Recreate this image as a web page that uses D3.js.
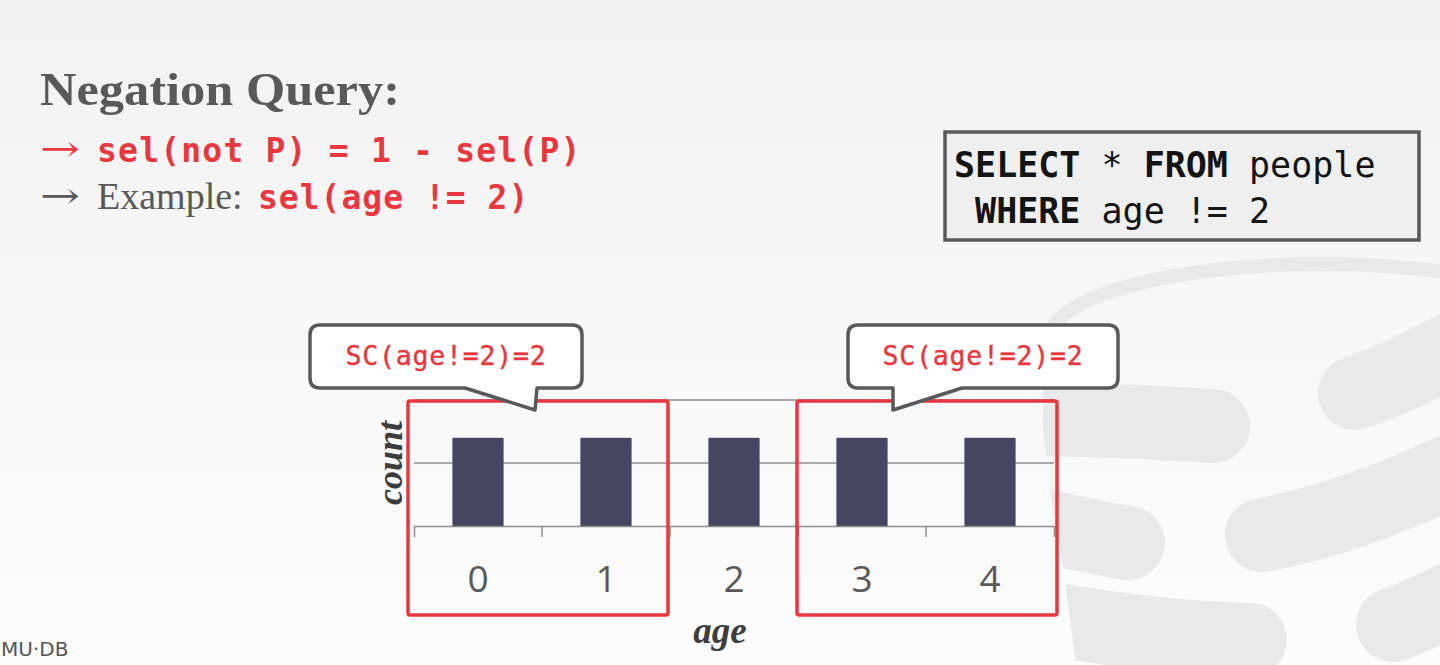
<!DOCTYPE html>
<html><head><meta charset="utf-8">
<script src="https://cdn.jsdelivr.net/npm/d3@7"></script>
<style>html,body{margin:0;padding:0;overflow:hidden;background:#f6f6f6}</style>
</head><body>
<svg id="chart" width="1440" height="665"></svg>
<script>
// ---- data ----
const ages = ["0", "1", "2", "3", "4"];
const counts = [1.4, 1.4, 1.4, 1.4, 1.4];
const yTicks = [0, 1, 2];
const highlightGroups = [["0", "1"], ["3", "4"]];
const calloutLabels = ["SC(age!=2)=2", "SC(age!=2)=2"];
const xAxisTitle = "age";
const yAxisTitle = "count";
const titleText = "Negation Query:";
const bullet1Code = "sel(not P) = 1 - sel(P)";
const bullet2Text = "Example:";
const bullet2Code = "sel(age != 2)";
const sqlLines = [[["SELECT", true], [" * ", false], ["FROM", true], [" people", false]],
                  [[" ", false], ["WHERE", true], [" age != 2", false]]];

// ---- styles ----
const RED = "#e8373e", GRAY = "#595959", BAR = "#464663";
const svg = d3.select("#chart");

// background gradient
const defs = svg.append("defs");
const lg = defs.append("linearGradient").attr("id", "bg").attr("x1", 0).attr("y1", 0).attr("x2", 0).attr("y2", 1);
lg.append("stop").attr("offset", "0%").attr("stop-color", "#f2f2f2");
lg.append("stop").attr("offset", "100%").attr("stop-color", "#fcfcfc");
svg.append("rect").attr("width", 1440).attr("height", 665).attr("fill", "url(#bg)");

// faint logo in background
defs.append("clipPath").attr("id", "wall").append("path")
  .attr("d", "M1043,300 L1043,430 Q1050,500 1058,530 L1070,620 L1076,665 L1440,665 L1440,300 Z");
const logo = svg.append("g").attr("fill", "none").attr("stroke", "#e9e9e9").attr("stroke-linecap", "round");
logo.append("path").attr("d", "M1050,338 A272,74 0 0 1 1594,338").attr("stroke-width", 14);
const bands = logo.append("g").attr("clip-path", "url(#wall)").attr("stroke-width", 74);
bands.append("path").attr("d", "M990,418 Q1120,420 1213,426");
bands.append("path").attr("d", "M1000,515 Q1080,535 1128,543");
bands.append("path").attr("d", "M1010,612 Q1150,638 1250,640");
logo.append("g").attr("stroke-width", 74).selectAll("path")
  .data(["M1355,393 Q1400,378 1470,340", "M1262,535 Q1350,520 1470,462", "M1393,625 Q1420,615 1470,590"])
  .join("path").attr("d", d => d);

// ---- header texts ----
svg.append("text").attr("x", 40).attr("y", 105).attr("font-family", "Liberation Serif")
  .attr("font-weight", "bold").attr("font-size", 47).attr("fill", GRAY)
  .attr("textLength", 360).attr("lengthAdjust", "spacingAndGlyphs").text(titleText);

const arrow = (yy, col) => svg.append("text").attr("x", 40).attr("y", yy).attr("font-family", "DejaVu Serif")
  .attr("font-size", 36).attr("fill", col).attr("textLength", 40).attr("lengthAdjust", "spacingAndGlyphs").text("\u2192");
arrow(161, RED);
arrow(208, GRAY);
svg.append("text").attr("x", 97).attr("y", 162).attr("font-family", "DejaVu Sans Mono")
  .attr("font-weight", "bold").attr("font-size", 33).attr("letter-spacing", 1.2).attr("fill", RED).text(bullet1Code);

svg.append("text").attr("x", 97).attr("y", 209).attr("font-family", "Liberation Serif")
  .attr("font-size", 38).attr("fill", GRAY).text(bullet2Text);
svg.append("text").attr("x", 258).attr("y", 209).attr("font-family", "DejaVu Sans Mono")
  .attr("font-weight", "bold").attr("font-size", 33).attr("letter-spacing", 1.0).attr("fill", RED).text(bullet2Code);

// SQL box
svg.append("rect").attr("x", 945).attr("y", 132).attr("width", 474).attr("height", 108)
  .attr("fill", "#efefef").attr("stroke", GRAY).attr("stroke-width", 3.5);
const sql = svg.append("text").attr("font-family", "DejaVu Sans Mono").attr("font-size", 35)
  .attr("fill", "#141414").attr("style", "white-space:pre");
sqlLines.forEach((line, i) => {
  line.forEach(([t, b], j) => {
    const ts = sql.append("tspan").attr("font-weight", b ? "bold" : "normal").text(t);
    if (j === 0) ts.attr("x", 954).attr("y", 177 + i * 45.5);
  });
});

// ---- chart ----
const x = d3.scaleBand().domain(ages).range([414, 1054]);
const y = d3.scaleLinear().domain([0, 2]).range([526, 400]);

// gridlines
svg.append("g").selectAll("line").data(yTicks.filter(t => t > 0)).join("line")
  .attr("x1", x.range()[0]).attr("x2", x.range()[1])
  .attr("y1", d => y(d)).attr("y2", d => y(d))
  .attr("stroke", "#8e8e8e").attr("stroke-width", 1.5);

// bars
const bw = x.bandwidth() * 0.4;
svg.append("g").selectAll("rect").data(ages).join("rect")
  .attr("x", (d) => x(d) + (x.bandwidth() - bw) / 2)
  .attr("y", (d, i) => y(counts[i]))
  .attr("width", bw)
  .attr("height", (d, i) => y(0) - y(counts[i]))
  .attr("fill", BAR);

// x axis
const xAxis = svg.append("g").attr("transform", `translate(0,${y(0)})`)
  .call(d3.axisBottom(x).tickSizeInner(0).tickSizeOuter(11).tickPadding(40));
xAxis.select(".domain").attr("stroke", "#8e8e8e").attr("stroke-width", 1.5);
xAxis.selectAll(".tick text").attr("font-family", "Open Sans").attr("font-size", 37).attr("fill", GRAY);
xAxis.selectAll(".boundary").data(ages.slice(1)).join("line").attr("class", "boundary")
  .attr("x1", d => x(d)).attr("x2", d => x(d)).attr("y1", 0).attr("y2", 11)
  .attr("stroke", "#8e8e8e").attr("stroke-width", 1.5);

// axis titles
svg.append("text").attr("transform", `translate(402,${(y(0) + y(2)) / 2}) rotate(-90)`)
  .attr("text-anchor", "middle").attr("font-family", "Liberation Serif").attr("font-weight", "bold")
  .attr("font-style", "italic").attr("font-size", 36).attr("fill", "#3d3d3d").text(yAxisTitle);
svg.append("text").attr("x", 720).attr("y", 643)
  .attr("text-anchor", "middle").attr("font-family", "Liberation Serif").attr("font-weight", "bold")
  .attr("font-style", "italic").attr("font-size", 37).attr("fill", "#3d3d3d").text(xAxisTitle);

// highlight boxes
const boxNudge = [-6, -1];
svg.append("g").selectAll("rect").data(highlightGroups).join("rect")
  .attr("x", (g, i) => x(g[0]) + boxNudge[i])
  .attr("y", y(2) + 1)
  .attr("width", g => x(g[g.length - 1]) + x.bandwidth() - x(g[0]) + 4)
  .attr("height", 214)
  .attr("rx", 2)
  .attr("fill", "none").attr("stroke", RED).attr("stroke-width", 3.5);

// callouts
const callouts = [
  { x0: 310, x1: 582, y0: 325, y1: 388, pL: 465, pR: 537, tx: 535, ty: 410 },
  { x0: 848, x1: 1118, y0: 325, y1: 388, pL: 893, pR: 962, tx: 893, ty: 410 }
];
const r = 10;
callouts.forEach((c, i) => {
  const p = `M${c.x0 + r},${c.y0} H${c.x1 - r} Q${c.x1},${c.y0} ${c.x1},${c.y0 + r} V${c.y1 - r} Q${c.x1},${c.y1} ${c.x1 - r},${c.y1} H${c.pR} L${c.tx},${c.ty} L${c.pL},${c.y1} H${c.x0 + r} Q${c.x0},${c.y1} ${c.x0},${c.y1 - r} V${c.y0 + r} Q${c.x0},${c.y0} ${c.x0 + r},${c.y0} Z`;
  svg.append("path").attr("d", p).attr("fill", "#fff").attr("stroke", GRAY).attr("stroke-width", 3.5)
    .attr("stroke-linejoin", "round");
  svg.append("text").attr("x", (c.x0 + c.x1) / 2).attr("y", 365).attr("text-anchor", "middle")
    .attr("font-family", "DejaVu Sans Mono").attr("font-size", 26.5).attr("letter-spacing", 0.8)
    .attr("fill", RED).attr("stroke", RED).attr("stroke-width", 0.4).text(calloutLabels[i]);
});

// footer
svg.append("text").attr("x", 1).attr("y", 656).attr("font-family", "DejaVu Sans")
  .attr("font-size", 20).attr("fill", "#555").text("MU\u00b7DB");
</script>
</body></html>
